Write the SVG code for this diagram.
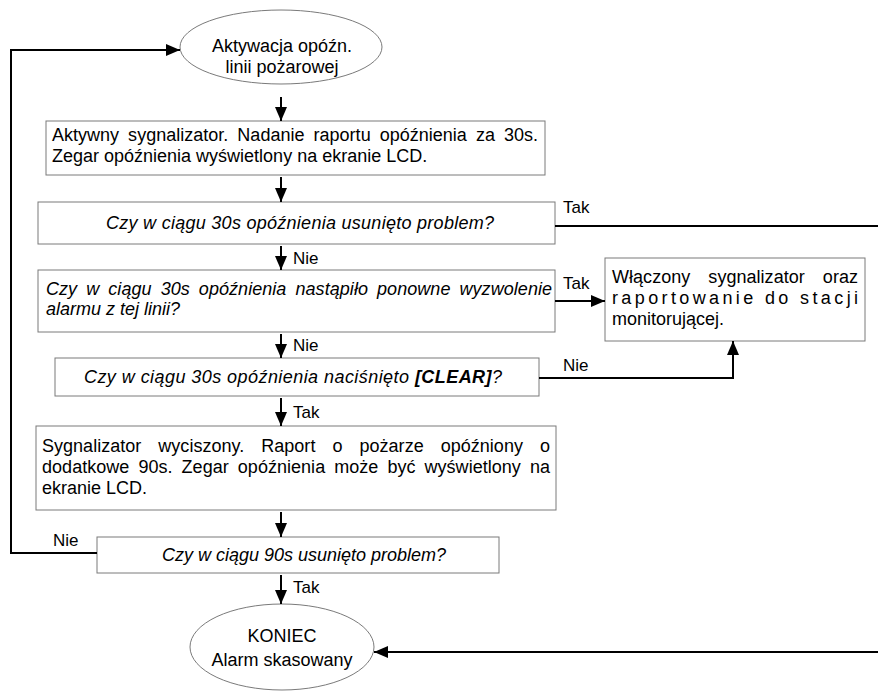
<svg xmlns="http://www.w3.org/2000/svg" width="878" height="691" viewBox="0 0 878 691">
<defs>
<marker id="ah" viewBox="0 0 14 12" refX="14" refY="6" markerWidth="14" markerHeight="12" markerUnits="userSpaceOnUse" orient="auto">
<path d="M0,0 L14,6 L0,12 z" fill="#000"/>
</marker>
<style>
.node{fill:#fff;stroke:#7a7a7a;stroke-width:1}
.t{font-family:"Liberation Sans",Arial,sans-serif;font-size:18px;fill:#000}
.c{text-anchor:middle}
.i{font-style:italic}
.b{font-weight:bold}
.l{font-size:17px}
.conn path{fill:none;stroke:#000;stroke-width:2}
.arr{marker-end:url(#ah)}
</style>
</defs>
<rect width="878" height="691" fill="#fff"/>

<g id="start">
<ellipse class="node" cx="281" cy="47" rx="101" ry="37"/>
<text class="t c" x="282" y="52">Aktywacja opóźn.</text>
<text class="t c" x="282" y="73">linii pożarowej</text>
</g>

<g id="box1">
<rect class="node" x="46" y="121" width="499" height="54"/>
<text class="t" x="52" y="141" word-spacing="4" textLength="486" lengthAdjust="spacing">Aktywny sygnalizator. Nadanie raportu opóźnienia za 30s.</text>
<text class="t" x="52" y="162">Zegar opóźnienia wyświetlony na ekranie LCD.</text>
</g>

<g id="q1">
<rect class="node" x="38" y="202" width="517" height="42"/>
<text class="t i" x="106" y="229" textLength="388" lengthAdjust="spacing">Czy w ciągu 30s opóźnienia usunięto problem?</text>
</g>

<g id="q2">
<rect class="node" x="38" y="270" width="517" height="62"/>
<text class="t i" x="46" y="295" word-spacing="4" textLength="506" lengthAdjust="spacing">Czy w ciągu 30s opóźnienia nastąpiło ponowne wyzwolenie</text>
<text class="t i" x="46" y="315">alarmu z tej linii?</text>
</g>

<g id="alarm">
<rect class="node" x="605" y="258" width="260" height="83"/>
<text class="t" x="612" y="283" word-spacing="13" textLength="246" lengthAdjust="spacing">Włączony sygnalizator oraz</text>
<text class="t" x="612" y="304" textLength="246" lengthAdjust="spacing">raportowanie do stacji</text>
<text class="t" x="612" y="325">monitorującej.</text>
</g>

<g id="q3">
<rect class="node" x="55" y="358" width="484" height="38"/>
<text class="t i" x="84" y="383" textLength="418" lengthAdjust="spacing">Czy w ciągu 30s opóźnienia naciśnięto <tspan class="b">[CLEAR]</tspan>?</text>
</g>

<g id="box2">
<rect class="node" x="36" y="426" width="520" height="84"/>
<text class="t" x="42" y="452" word-spacing="12" textLength="508" lengthAdjust="spacing">Sygnalizator wyciszony. Raport o pożarze opóźniony o</text>
<text class="t" x="42" y="473" word-spacing="4" textLength="508" lengthAdjust="spacing">dodatkowe 90s. Zegar opóźnienia może być wyświetlony na</text>
<text class="t" x="42" y="494">ekranie LCD.</text>
</g>

<g id="q4">
<rect class="node" x="97" y="537" width="402" height="36"/>
<text class="t c i" x="304" y="561">Czy w ciągu 90s usunięto problem?</text>
</g>

<g id="end">
<ellipse class="node" cx="282" cy="647" rx="92" ry="43"/>
<text class="t c" x="282" y="642">KONIEC</text>
<text class="t c" x="282" y="666">Alarm skasowany</text>
</g>

<g id="connectors" class="conn">
<path class="arr" d="M97,553 H11 V50 H180"/>
<path class="arr" d="M281,97 V121"/>
<path class="arr" d="M281,177 V202"/>
<path d="M555,226 H878"/>
<path class="arr" d="M281,246 V270"/>
<path class="arr" d="M555,301 H605"/>
<path class="arr" d="M281,334 V358"/>
<path class="arr" d="M539,378 H733 V341"/>
<path class="arr" d="M281,398 V426"/>
<path class="arr" d="M281,512 V537"/>
<path class="arr" d="M281,575 V604"/>
<path class="arr" d="M878,652 H374"/>
</g>

<g id="labels">
<text class="t l" x="563" y="213">Tak</text>
<text class="t l" x="563" y="289">Tak</text>
<text class="t l" x="563" y="371">Nie</text>
<text class="t l" x="293" y="264">Nie</text>
<text class="t l" x="293" y="351">Nie</text>
<text class="t l" x="293" y="418">Tak</text>
<text class="t l" x="53" y="546">Nie</text>
<text class="t l" x="293" y="593">Tak</text>
</g>
</svg>
